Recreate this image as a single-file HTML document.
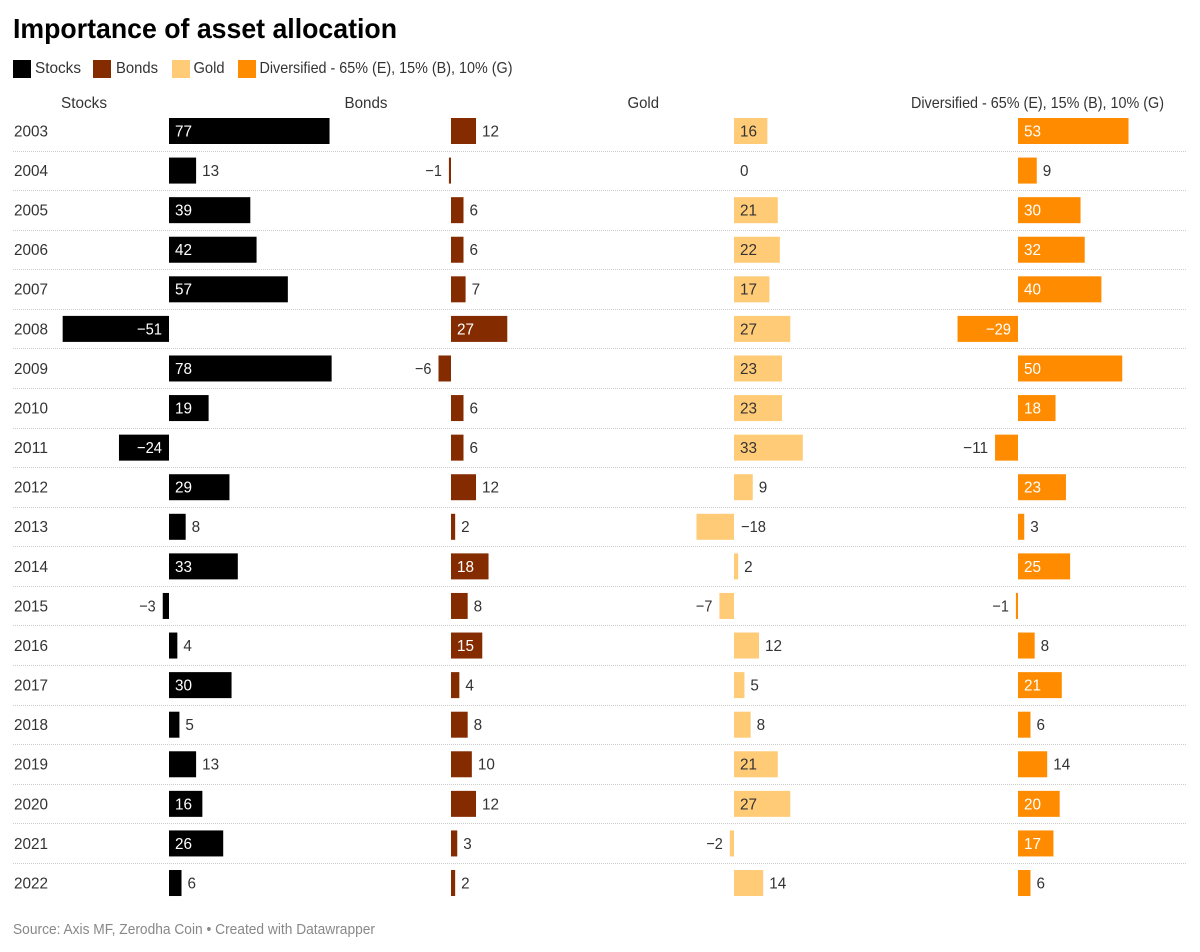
<!DOCTYPE html>
<html lang="en">
<head>
<meta charset="utf-8">
<title>Importance of asset allocation</title>
<style>
html,body{margin:0;padding:0;background:#fff;}
svg{display:block;}
text{font-family:"Liberation Sans",sans-serif;}
</style>
</head>
<body>
<svg id="chart" width="1200" height="952" viewBox="0 0 1200 952" xmlns="http://www.w3.org/2000/svg">
  <rect width="1200" height="952" fill="#fff"/>
  <text x="13" y="38" font-size="28" font-weight="700" fill="#000" textLength="384" lengthAdjust="spacingAndGlyphs">Importance of asset allocation</text>

  <g font-size="16" fill="#333">
    <rect x="13" y="60" width="18" height="18" fill="#000"/>
    <text x="35" y="73" textLength="46" lengthAdjust="spacingAndGlyphs">Stocks</text>
    <rect x="93" y="60" width="18" height="18" fill="#842c00"/>
    <text x="116" y="73" textLength="42" lengthAdjust="spacingAndGlyphs">Bonds</text>
    <rect x="172" y="60" width="18" height="18" fill="#ffcb77"/>
    <text x="193.500" y="73" textLength="31" lengthAdjust="spacingAndGlyphs">Gold</text>
    <rect x="238" y="60" width="18" height="18" fill="#ff8c00"/>
    <text x="259.500" y="73" textLength="253" lengthAdjust="spacingAndGlyphs">Diversified - 65% (E), 15% (B), 10% (G)</text>
  </g>

  <g font-size="16" fill="#333">
    <text x="61" y="108" textLength="46" lengthAdjust="spacingAndGlyphs">Stocks</text>
    <text x="344.500" y="108" textLength="43" lengthAdjust="spacingAndGlyphs">Bonds</text>
    <text x="627.500" y="108" textLength="31.500" lengthAdjust="spacingAndGlyphs">Gold</text>
    <text x="911" y="108" textLength="253" lengthAdjust="spacingAndGlyphs">Diversified - 65% (E), 15% (B), 10% (G)</text>
  </g>

  <g id="separators"></g>
  <g id="rows"></g>
  <g id="bars"></g>

  <text x="13" y="934" font-size="14.500" fill="#888" textLength="362" lengthAdjust="spacingAndGlyphs">Source: Axis MF, Zerodha Coin • Created with Datawrapper</text>
</svg>
<script>
const years = [2003,2004,2005,2006,2007,2008,2009,2010,2011,2012,2013,2014,2015,2016,2017,2018,2019,2020,2021,2022];
const stocks = [77,13,39,42,57,-51,78,19,-24,29,8,33,-3,4,30,5,13,16,26,6];
const bonds = [12,-1,6,6,7,27,-6,6,6,12,2,18,8,15,4,8,10,12,3,2];
const gold = [16,0,21,22,17,27,23,23,33,9,-18,2,-7,12,5,8,21,27,-2,14];
const diversified = [53,9,30,32,40,-29,50,18,-11,23,3,25,-1,8,21,6,14,20,17,6];

const NS = 'http://www.w3.org/2000/svg';
const panels = [
  {key:'stocks', values:stocks, zero:169, color:'#000000', inside:'#ffffff'},
  {key:'bonds', values:bonds, zero:451, color:'#842c00', inside:'#ffffff'},
  {key:'gold', values:gold, zero:734, color:'#ffcb77', inside:'#333333'},
  {key:'diversified', values:diversified, zero:1018, color:'#ff8c00', inside:'#ffffff'}
];
const pxPerUnit = 2.085;
const rowTop = 131, rowStep = 39.58, barHeight = 26;

function xScale(panel, v){ return panel.zero + v * pxPerUnit; }
function yScale(i){ return rowTop + i * rowStep; }
function fmt(v){ return v < 0 ? '\u2212' + Math.abs(v) : String(v); }
function numWidth(v){ return String(Math.abs(v)).length * 8.5 + (v < 0 ? 8 : 0); }
function make(tag, attrs, parent){
  const el = document.createElementNS(NS, tag);
  for (const k in attrs) el.setAttribute(k, attrs[k]);
  parent.appendChild(el);
  return el;
}

const sepG = document.getElementById('separators');
const rowG = document.getElementById('rows');
const barG = document.getElementById('bars');

years.forEach(function(year, i){
  const cy = yScale(i);
  const label = make('text', {x:14, y:cy + 5.4, 'font-size':16, fill:'#333', textLength:34, lengthAdjust:'spacingAndGlyphs'}, rowG);
  
  
  label.textContent = year;
  if (i < years.length - 1) {
    const sepY = Math.floor(cy + 20) + 0.5;
    const sep = make('line', {x1:13, x2:1186, y1:sepY, y2:sepY, stroke:'#cccccc', 'stroke-width':1, 'stroke-dasharray':'1 1'}, sepG);
    
    
  }
});

panels.forEach(function(panel){
  panel.values.forEach(function(v, i){
    const cy = yScale(i);
    const end = xScale(panel, v);
    const left = Math.min(panel.zero, end);
    const w = Math.abs(end - panel.zero);
    if (v !== 0) {
      const bar = make('rect', {x:left, y:cy - barHeight / 2, width:w, height:barHeight, fill:panel.color}, barG);
      
      
    }
    const text = fmt(v);
    const fits = text.length * 8.5 + 13 <= w;
    let x, anchor, fill = '#333333';
    if (fits) {
      fill = panel.inside;
      if (v > 0) { x = panel.zero + 6; anchor = 'start'; }
      else { x = panel.zero - 7; anchor = 'end'; }
    } else if (v >= 0) {
      x = end + 6; anchor = 'start';
      if (v === 0) x = panel.zero + 6;
    } else if (w >= 30) {
      x = panel.zero + 7; anchor = 'start';
    } else {
      x = end - 7; anchor = 'end';
    }
    const t = make('text', {x:x, y:cy + 5.4, 'font-size':16, fill:fill, 'text-anchor':anchor, textLength:numWidth(v), lengthAdjust:'spacingAndGlyphs'}, barG);
    
    
    t.textContent = text;
  });
});
</script>
</body>
</html>
